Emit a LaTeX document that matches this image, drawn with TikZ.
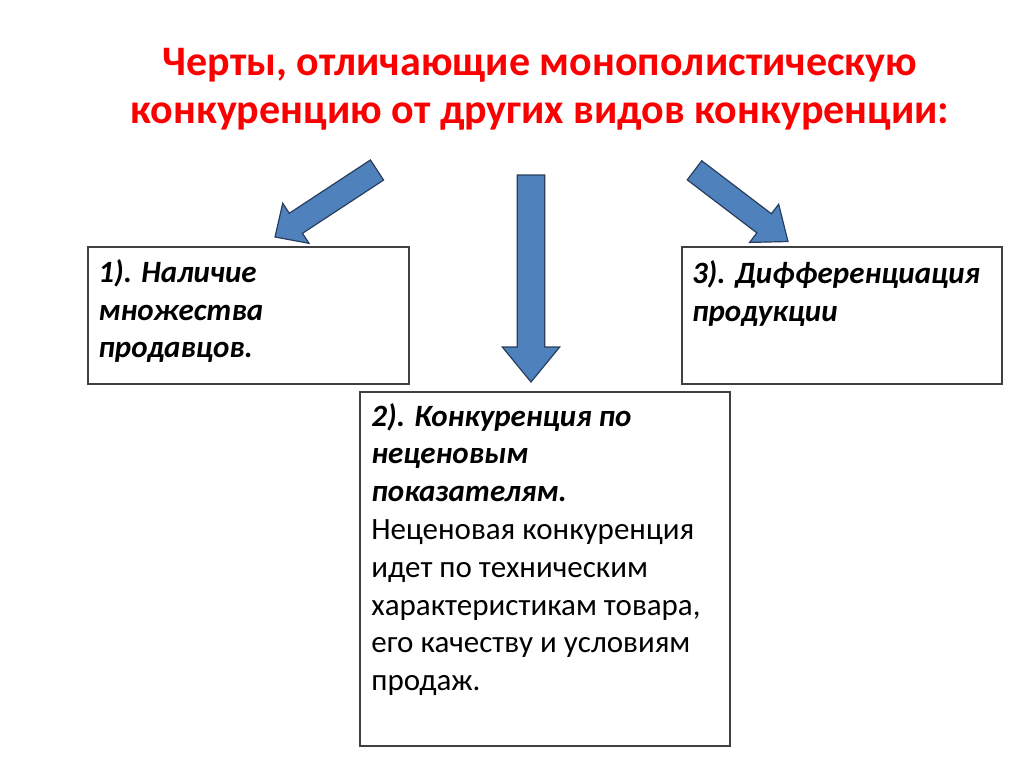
\documentclass[tikz,border=0pt]{standalone}
\usepackage{fontspec}
\setmainfont{Carlito}
\usetikzlibrary{calc,positioning}

\definecolor{titlered}{RGB}{250,0,0}
\definecolor{arrowblue}{RGB}{79,129,189}
\definecolor{arrowedge}{RGB}{40,62,92}
\definecolor{boxedge}{RGB}{64,64,64}

% block arrow: tail, tip, shaft half width, head half width, head length
\newcommand{\blockarrow}[5]{%
    \path (#1) coordinate (ba-t) (#2) coordinate (ba-p)
        ($(#2)!#5!(#1)$) coordinate (ba-h);
    \draw[blockarrow] ($(ba-t)!#3!90:(ba-p)$) -- ($(ba-h)!#3!90:(ba-p)$)
        -- ($(ba-h)!#4!90:(ba-p)$) -- (ba-p) -- ($(ba-h)!#4!-90:(ba-p)$)
        -- ($(ba-h)!#3!-90:(ba-p)$) -- ($(ba-t)!#3!-90:(ba-p)$) -- cycle;
}

\begin{document}
\begin{tikzpicture}[
            x = 0.5pt, y = -0.5pt, % pixel grid, y down
            box/.style = {draw = boxedge, line width = 0.75pt, fill = white,
                inner sep = 0pt, anchor = north west},
            boxtext/.style = {anchor = north west, inner sep = 0pt, align = left,
                font = \fontsize{15.5}{18.9}\selectfont},
            blockarrow/.style = {draw = arrowedge, fill = arrowblue,
                line width = 0.6pt, line join = miter}
        ]

        \useasboundingbox (0,0) rectangle (1024,767);

        % title
        \node[font=\fontsize{21}{24}\selectfont\bfseries, text=titlered,
            align=center, inner sep=0pt, anchor=north] (title) at (540,41)
            {\strut Черты, отличающие монополистическую\\конкуренцию от других видов конкуренции:};

        % boxes
        \node[box, minimum width=160.5pt, minimum height=68.5pt] (box1) at (87,246) {};
        \node[box, minimum width=185pt, minimum height=177pt] (box2) at (359,391) {};
        \node[box, minimum width=160pt, minimum height=68.5pt] (box3) at (681,246) {};

        \node[boxtext, font=\fontsize{15.5}{18.9}\selectfont\bfseries\itshape] (text1)
            at ([xshift=5.5pt, yshift=-4.75pt]box1.north west)
            {\strut 1). Наличие\\множества\\продавцов.};
        \node[boxtext] (text2) at ([xshift=6pt, yshift=-4.1pt]box2.north west)
            {\strut{\bfseries\itshape 2). Конкуренция по}\\{\bfseries\itshape неценовым}\\
            {\bfseries\itshape показателям.}\\Неценовая конкуренция\\идет по техническим\\
            характеристикам товара,\\его качеству и условиям\\продаж.};
        \node[boxtext, font=\fontsize{15.5}{18.9}\selectfont\bfseries\itshape] (text3)
            at ([xshift=5.3pt, yshift=-5.25pt]box3.north west)
            {\strut 3). Дифференциация\\продукции};

        % arrows
        \coordinate (tailL) at (377,170);
        \coordinate (tipL) at (275,237);
        \coordinate (tailC) at (531,175);
        \coordinate (tipC) at (531,382);
        \coordinate (tailR) at (694.5,170.3);
        \coordinate (tipR) at (788,241.5);

        \blockarrow{tailL}{tipL}{6pt}{12pt}{12.5pt}
        \blockarrow{tailC}{tipC}{6.85pt}{14.35pt}{17.5pt}
        \blockarrow{tailR}{tipR}{6pt}{12pt}{15pt}

    \end{tikzpicture}
\end{document}
